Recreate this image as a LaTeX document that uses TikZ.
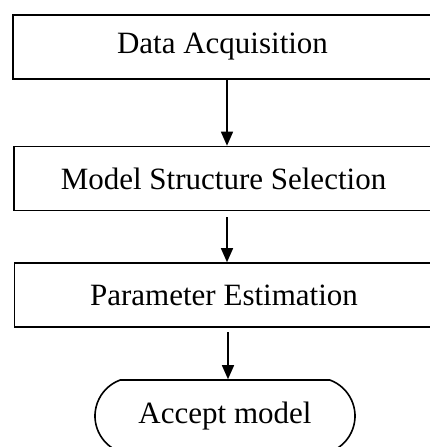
\documentclass[tikz,border=0pt]{standalone}
\usepackage{fontspec}
\setmainfont{Liberation Serif}
\usetikzlibrary{arrows.meta,shapes.misc}
\begin{document}
\begin{tikzpicture}[x=1pt,y=-1pt,
  every node/.style={font=\fontsize{31}{37}\selectfont, inner sep=0pt},
  stepbox/.style={draw, line width=1.6pt, minimum width=419pt, minimum height=64pt},
  endbox/.style={draw, line width=1.6pt, rounded rectangle, rounded rectangle arc length=140, minimum width=260pt, minimum height=72pt},
  flow/.style={line width=1.5pt, -{Triangle[length=14pt,width=12pt]}}]
\useasboundingbox (0,0) rectangle (429,447);
\node[stepbox] (a) at (222.5,47) {Data Acquisition};
\node[stepbox] (b) at (223.5,178.5) {Model Structure Selection};
\node[stepbox] (c) at (224,295) {Parameter Estimation};
\node[endbox] (d) at (225,416) {Accept model};
\coordinate (ax) at (227,0);
\coordinate (s2) at (227,217);
\coordinate (s3) at (228,332);
\draw[flow] (a.south -| ax) -- (b.north -| ax);
\draw[flow] (s2) -- (c.north -| s2);
\draw[flow] (s3) -- (d.north -| s3);
\end{tikzpicture}
\end{document}
